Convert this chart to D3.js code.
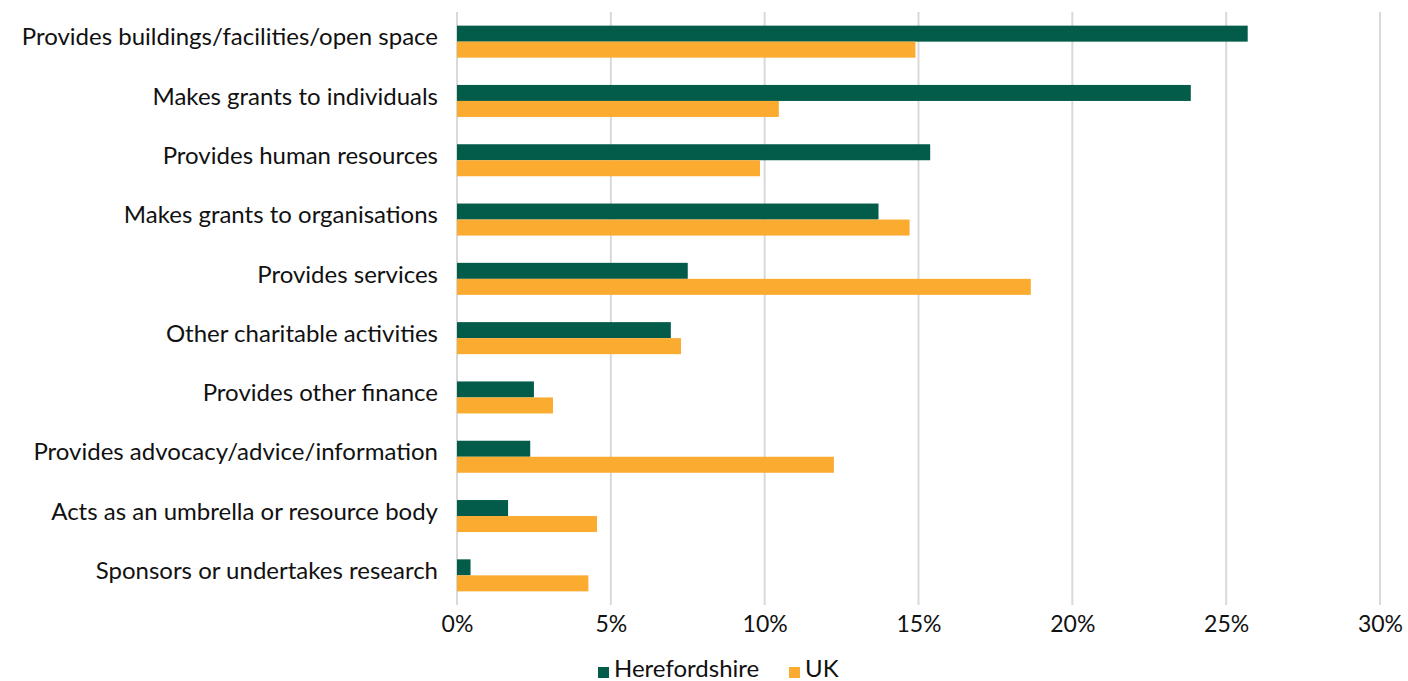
<!DOCTYPE html>
<html>
<head>
<meta charset="utf-8">
<script src="https://cdn.jsdelivr.net/npm/d3@7"></script>
<style>
  body { margin: 0; background: #fff; }
  text { font-family: Lato, "Open Sans", sans-serif; fill: #111; }
</style>
</head>
<body>
<svg id="chart" width="1408" height="681"></svg>
<script>
// Charitable activity types, share of charities (%)
const categories = [
  "Provides buildings/facilities/open space",
  "Makes grants to individuals",
  "Provides human resources",
  "Makes grants to organisations",
  "Provides services",
  "Other charitable activities",
  "Provides other finance",
  "Provides advocacy/advice/information",
  "Acts as an umbrella or resource body",
  "Sponsors or undertakes research"
];
const herefordshire = [25.7, 23.85, 15.38, 13.7, 7.5, 6.95, 2.5, 2.38, 1.66, 0.44];
const uk = [14.9, 10.46, 9.85, 14.71, 18.65, 7.28, 3.12, 12.25, 4.55, 4.27];
const seriesNames = ["Herefordshire", "UK"];
const tickValues = [0, 5, 10, 15, 20, 25, 30];

const colors = { Herefordshire: "#035C4A", UK: "#FAAB30" };

const svg = d3.select("#chart");
const margin = { left: 457, right: 28, top: 12, bottom: 76 };
const width = 1408, height = 681;

const x = d3.scaleLinear().domain([0, 30]).range([margin.left, width - margin.right]);
const y = d3.scaleBand().domain(categories).range([margin.top, height - margin.bottom]).paddingInner(0.46).paddingOuter(0.23);
const sub = d3.scaleBand().domain(seriesNames).range([0, y.bandwidth()]);

// vertical gridlines
svg.append("g").selectAll("line").data(tickValues).join("line")
  .attr("x1", d => x(d)).attr("x2", d => x(d))
  .attr("y1", margin.top).attr("y2", height - margin.bottom)
  .attr("stroke", "#D9D9D9").attr("stroke-width", 2);

// bars
const rows = categories.map((c, i) => ({ c, vals: [herefordshire[i], uk[i]] }));
const g = svg.append("g");
rows.forEach(r => {
  seriesNames.forEach((s, j) => {
    g.append("rect")
      .attr("x", x(0))
      .attr("y", y(r.c) + sub(s))
      .attr("width", x(r.vals[j]) - x(0))
      .attr("height", sub.bandwidth())
      .attr("fill", colors[s]);
  });
});

// x axis tick labels
const xAxis = d3.axisBottom(x).tickValues(tickValues).tickFormat(d => d + "%").tickSize(0).tickPadding(11);
const ax = svg.append("g").attr("transform", `translate(0,${height - margin.bottom})`).call(xAxis);
ax.select(".domain").remove();
ax.selectAll("text").attr("font-size", 23).attr("fill", "#111").style("font-family", "Lato, 'Open Sans', sans-serif");

// y axis category labels
const yAxis = d3.axisLeft(y).tickSize(0).tickPadding(19);
const ay = svg.append("g").attr("transform", `translate(${margin.left},0)`).call(yAxis);
ay.select(".domain").remove();
ay.selectAll("text").attr("font-size", 24).attr("y", -4).attr("fill", "#111").style("font-family", "Lato, 'Open Sans', sans-serif");

// legend
const legend = svg.append("g").attr("transform", "translate(598,670)");
const legendX = [0, 191];
seriesNames.forEach((s, i) => {
  const item = legend.append("g").attr("transform", `translate(${legendX[i]},0)`);
  item.append("rect").attr("x", 0).attr("y", -3).attr("width", 11).attr("height", 11).attr("fill", colors[s]);
  item.append("text").attr("x", 16).attr("y", 7).attr("font-size", 24).text(s);
});
</script>
</body>
</html>
